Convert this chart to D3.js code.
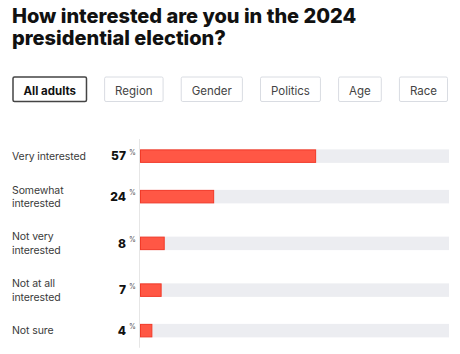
<!DOCTYPE html>
<html>
<head>
<meta charset="utf-8">
<script src="https://cdn.jsdelivr.net/npm/d3@7"></script>
<style>
  html, body { margin: 0; padding: 0; background: #fff; }
  svg { display: block; font-family: Inter, "Noto Sans", sans-serif; }
</style>
</head>
<body>
<div id="chart"></div>
<script>
// poll question, one horizontal bar per answer
const titleLines = ["How interested are you in the 2024", "presidential election?"];
const tabs = ["All adults", "Region", "Gender", "Politics", "Age", "Race"];
const answers = [
  ["Very interested"],
  ["Somewhat", "interested"],
  ["Not very", "interested"],
  ["Not at all", "interested"],
  ["Not sure"]
];
const shares = [57, 24, 8, 7, 4];

const W = 460, H = 354;
const svg = d3.select("#chart").append("svg")
  .attr("width", W).attr("height", H);

// title
svg.append("text")
  .attr("x", 12).attr("y", 23)
  .attr("fill", "#111")
  .style("font-size", "20px").style("font-weight", 800)
  .selectAll("tspan").data(titleLines).join("tspan")
    .attr("x", 12).attr("dy", (d, i) => i ? 22 : 0)
    .text(d => d);

// tab buttons, spread edge to edge like a flex row
const tabG = svg.append("g");
const pad = 11, tabL = 12.5, tabR = 448;
const tabText = tabG.selectAll("text").data(tabs).join("text")
  .attr("y", 94.5)
  .attr("text-anchor", "middle")
  .attr("fill", (d, i) => i ? "#444" : "#111")
  .style("font-size", "11.5px")
  .style("font-weight", (d, i) => i ? 400 : 700)
  .text(d => d);
const widths = [];
tabText.each(function() { widths.push(this.getComputedTextLength() + pad * 2); });
const gap = (tabR - tabL - d3.sum(widths)) / (tabs.length - 1);
const tabX = [];
widths.reduce((x, w) => { tabX.push(x); return x + w + gap; }, tabL);
tabG.selectAll("rect").data(tabs).join("rect")
  .attr("x", (d, i) => tabX[i] + 0.5).attr("y", 77)
  .attr("width", (d, i) => widths[i] - 1).attr("height", 24.5)
  .attr("rx", 1.5)
  .attr("fill", "#fff")
  .attr("stroke", (d, i) => i ? "#d9dce2" : "#444")
  .attr("stroke-width", (d, i) => i ? 1 : 1.5)
  .lower();
tabText.attr("x", (d, i) => tabX[i] + widths[i] / 2);

// rows: taller when the label wraps onto two lines
const lineH = 12.5, baseH = 21.75, rowsTop = 139;
const rowH = answers.map(a => baseH + a.length * lineH);
const rowTop = [];
rowH.reduce((y, h) => { rowTop.push(y); return y + h; }, rowsTop);
const rowsBottom = rowsTop + d3.sum(rowH);

const x = d3.scaleLinear().domain([0, 100]).range([140, 449]);
const barH = 13.5;

svg.append("line")
  .attr("x1", 139.5).attr("x2", 139.5)
  .attr("y1", rowsTop).attr("y2", rowsBottom)
  .attr("stroke", "#e6e6e6").attr("stroke-width", 1);

const rows = svg.selectAll("g.row").data(answers).join("g")
  .attr("class", "row")
  .attr("transform", (d, i) => `translate(0,${rowTop[i] + rowH[i] / 2})`);

rows.append("rect")
  .attr("x", x(0)).attr("y", -barH / 2)
  .attr("width", x(100) - x(0)).attr("height", barH)
  .attr("fill", "#ecedf1");

rows.append("rect")
  .attr("x", x(0) + 0.5).attr("y", -barH / 2 + 0.5)
  .attr("width", (d, i) => x(shares[i]) - x(0) - 1).attr("height", barH - 1)
  .attr("fill", "#ff5745").attr("stroke", "#f23a28").attr("stroke-width", 1);

// answer labels
rows.append("text")
  .attr("fill", "#3a3a3a")
  .style("font-size", "10.5px")
  .style("letter-spacing", "-0.1px")
  .selectAll("tspan").data(d => d).join("tspan")
    .attr("x", 12)
    .attr("y", (t, j, nodes) => {
      const n = nodes.length;
      return (j - (n - 1) / 2) * 13.5 + 3.8;
    })
    .text(t => t);

// values with a small raised percent sign
rows.append("text")
  .attr("x", 126).attr("y", 4.3)
  .attr("text-anchor", "end")
  .attr("fill", "#111")
  .style("font-size", "12px").style("font-weight", 800)
  .text((d, i) => shares[i]);
rows.append("text")
  .attr("x", 129).attr("y", -1.5)
  .attr("fill", "#555")
  .style("font-size", "7px")
  .text("%");
</script>
</body>
</html>
